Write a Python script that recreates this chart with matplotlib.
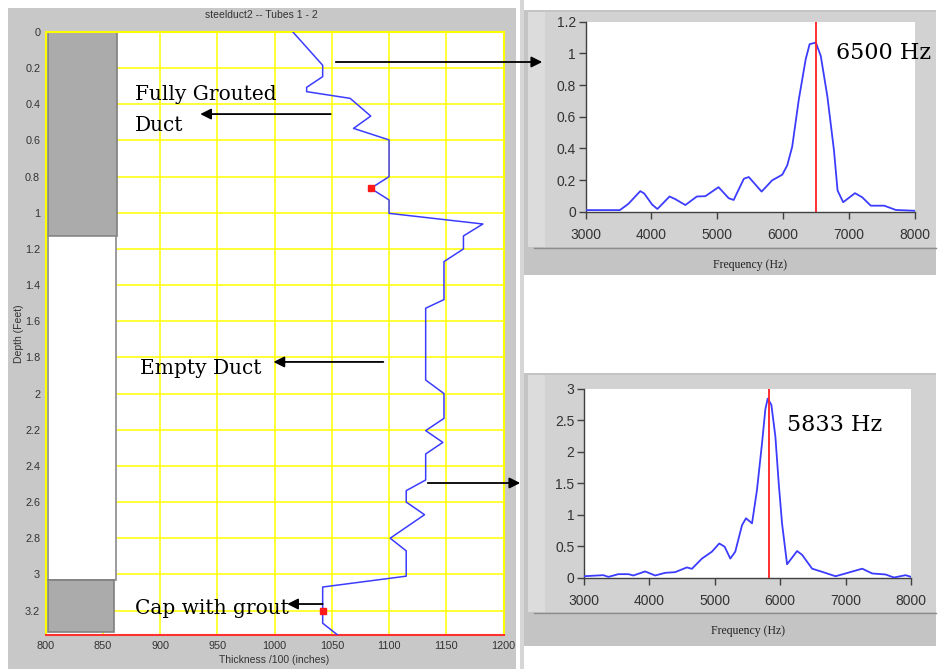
import matplotlib
matplotlib.use("Agg")
import matplotlib.pyplot as plt
from matplotlib.patches import Rectangle, FancyArrowPatch
from matplotlib.ticker import FuncFormatter
from matplotlib.lines import Line2D

# ---- thickness profile along the duct (depth in feet, thickness /100 in) ----
depth_ft = [0, 0.184, 0.247, 0.306, 0.33, 0.367, 0.465, 0.533, 0.597, 0.80, 0.865,
            0.929, 1.003, 1.062, 1.128, 1.20, 1.27, 1.48, 1.528, 1.925, 2.0, 2.137,
            2.205, 2.27, 2.334, 2.478, 2.537, 2.60, 2.67, 2.80, 2.87, 3.01, 3.07,
            3.20, 3.27, 3.34]
thickness = [1016, 1042, 1042, 1028, 1028, 1066, 1084, 1069, 1100, 1100, 1084,
             1100, 1100, 1182, 1165, 1165, 1148, 1148, 1132, 1132, 1148, 1148,
             1132, 1147, 1132, 1132, 1115, 1115, 1131, 1101, 1115, 1115, 1042,
             1042, 1042, 1056]
picked_depth = [0.865, 3.20]
picked_thickness = [1084, 1042]

# duct schematic zones (depth, feet)
grout_top = (0.0, 1.13)
empty_zone = (1.13, 3.03)
grout_cap = (3.03, 3.32)

# ---- spectrum at the grouted section ----
freq_top = [3000, 3520, 3650, 3830, 3890, 4010, 4090, 4275, 4360, 4515, 4690, 4820,
            5020, 5175, 5250, 5405, 5480, 5675, 5835, 5990, 6065, 6140, 6240, 6345,
            6405, 6500, 6575, 6675, 6775, 6830, 6915, 7095, 7205, 7335, 7540, 7715, 8000]
amp_top = [0.01, 0.01, 0.05, 0.13, 0.115, 0.045, 0.017, 0.096, 0.08, 0.042, 0.096,
           0.098, 0.155, 0.085, 0.074, 0.208, 0.219, 0.127, 0.198, 0.234, 0.293, 0.41,
           0.707, 0.962, 1.058, 1.068, 0.983, 0.728, 0.389, 0.134, 0.06, 0.117, 0.091,
           0.038, 0.038, 0.011, 0.006]
peak_top = 6500

# ---- spectrum at the empty section ----
freq_bot = [3000, 3296, 3373, 3526, 3679, 3756, 3935, 4088, 4241, 4394, 4573, 4650,
            4803, 4956, 5068, 5150, 5237, 5313, 5416, 5477, 5569, 5645, 5722, 5773,
            5809, 5865, 5926, 5977, 6028, 6105, 6258, 6335, 6488, 6641, 6846, 6999,
            7254, 7407, 7611, 7739, 7918, 8000]
amp_bot = [0.02, 0.037, 0.01, 0.053, 0.053, 0.032, 0.096, 0.032, 0.074, 0.085, 0.16,
           0.138, 0.30, 0.41, 0.54, 0.49, 0.30, 0.41, 0.83, 0.94, 0.86, 1.39, 2.13,
           2.67, 2.84, 2.74, 2.24, 1.50, 0.86, 0.21, 0.42, 0.36, 0.14, 0.09, 0.02,
           0.064, 0.14, 0.064, 0.048, 0.0, 0.037, 0.01]
peak_bot = 5833

thick_ticks = [800, 850, 900, 950, 1000, 1050, 1100, 1150, 1200]
depth_ticks = [0, 0.2, 0.4, 0.6, 0.8, 1.0, 1.2, 1.4, 1.6, 1.8, 2.0, 2.2, 2.4, 2.6,
               2.8, 3.0, 3.2]
freq_ticks = [3000, 4000, 5000, 6000, 7000, 8000]
amp_ticks_top = [0, 0.2, 0.4, 0.6, 0.8, 1.0, 1.2]
amp_ticks_bot = [0, 0.5, 1.0, 1.5, 2.0, 2.5, 3.0]

W, H = 938, 669
SANS = ["Liberation Sans", "DejaVu Sans"]
SERIF = ["DejaVu Serif"]
SMALL_SERIF = ["Liberation Serif", "DejaVu Serif"]
BLUE = "#3c3cff"
TICK_C = "#333333"

fig = plt.figure(figsize=(W / 100, H / 100), dpi=100)
fig.patch.set_facecolor("white")


def frect(x0, y0, x1, y1):
    """Rectangle in pixel units (origin top-left) -> figure fraction."""
    return (x0 / W, 1 - y1 / H), (x1 - x0) / W, (y1 - y0) / H


def panel(x0, y0, x1, y1, color, z=-2):
    xy, w, h = frect(x0, y0, x1, y1)
    fig.add_artist(Rectangle(xy, w, h, transform=fig.transFigure, facecolor=color,
                             edgecolor="none", zorder=z))


def faxes(x0, y0, x1, y1):
    xy, w, h = frect(x0, y0, x1, y1)
    return fig.add_axes([xy[0], xy[1], w, h])


def fig_xy(x, y):
    return (x / W, 1 - y / H)


def hline(x0, x1, y):
    fig.add_artist(Line2D([x0 / W, x1 / W], [1 - y / H, 1 - y / H],
                          transform=fig.transFigure, color="#8c8c8c", lw=1,
                          zorder=-1))


fmt = FuncFormatter(lambda v, p: f"{v:g}")

# ---------------- window backgrounds ----------------
panel(8, 8, 516, 669, "#c8c8c8")
panel(520, 0, 524, 669, "#d6d6d6")
# upper spectrum window
panel(524, 10, 936, 275, "#c4c4c4")
panel(528, 12, 936, 247, "#d2d2d2")
panel(528, 12, 545, 247, "#dcdcdc")
hline(534, 936, 248)
# lower spectrum window
panel(524, 373, 936, 646, "#c4c4c4")
panel(528, 375, 936, 612, "#d2d2d2")
panel(528, 375, 545, 612, "#dcdcdc")
hline(534, 936, 613)

# ---------------- thickness vs depth ----------------
ax = faxes(45.7, 32, 503.5, 635.3)
ax.set_facecolor("white")
ax.set_xlim(800, 1200)
ax.set_ylim(3.337, 0)
ax.set_xticks(thick_ticks)
ax.set_yticks(depth_ticks)
ax.yaxis.set_major_formatter(fmt)
ax.grid(True, color="#ffff00", lw=1.1)
ax.set_axisbelow(True)
for s in ["left", "right", "top"]:
    ax.spines[s].set_color("#ffff00")
    ax.spines[s].set_linewidth(1.5)
ax.spines["bottom"].set_color("#ff3030")
ax.spines["bottom"].set_linewidth(1.5)
ax.tick_params(length=0, labelsize=7.8, labelcolor=TICK_C, pad=4)
for lab in ax.get_xticklabels() + ax.get_yticklabels():
    lab.set_family(SANS)

# duct schematic
ax.add_patch(Rectangle((802, grout_top[0]), 60, grout_top[1] - grout_top[0],
                       facecolor="#ababab", edgecolor="#7f7f7f", lw=1.2, zorder=2))
ax.add_patch(Rectangle((802, empty_zone[0]), 59, empty_zone[1] - empty_zone[0],
                       facecolor="white", edgecolor="#8a8a8a", lw=1.2, zorder=2))
ax.add_patch(Rectangle((802, grout_cap[0]), 58, grout_cap[1] - grout_cap[0],
                       facecolor="#ababab", edgecolor="#7f7f7f", lw=1.2, zorder=2))

ax.plot(thickness, depth_ft, color=BLUE, lw=1.1, zorder=3)
ax.plot(picked_thickness, picked_depth, ls="none", marker="s", ms=4,
        color="#ff1a1a", zorder=4)

ax.set_xlabel("Thickness /100 (inches)", family=SANS, fontsize=7.5,
              color=TICK_C, labelpad=3)
ax.set_ylabel("Depth (Feet)", family=SANS, fontsize=7.5, color=TICK_C, labelpad=1)
fig.text(261 / W, 1 - 15 / H, "steelduct2 -- Tubes 1 - 2", family=SANS,
         fontsize=7.5, color=TICK_C, ha="center", va="center")

# annotations
txt_kw = dict(family=SERIF, fontsize=14.5, color="black", va="center", ha="left",
              zorder=6)
ax.text(878, 0.345, "Fully Grouted", **txt_kw)
ax.text(878, 0.515, "Duct", **txt_kw)
ax.text(882.6, 1.86, "Empty Duct", **txt_kw)
ax.text(878, 3.19, "Cap with grout", **txt_kw)

arrow = dict(arrowstyle="-|>", color="black", lw=1.3, mutation_scale=16,
             shrinkA=0, shrinkB=0)
ax.annotate("", xy=(935, 0.454), xytext=(1049, 0.454), arrowprops=arrow, zorder=6)
ax.annotate("", xy=(999, 1.825), xytext=(1095, 1.825), arrowprops=arrow, zorder=6)
ax.annotate("", xy=(1011, 3.164), xytext=(1042, 3.164), arrowprops=arrow, zorder=6)

# arrows leading to the spectra
for start, end in [((333, 62), (545, 62)), ((425, 483), (523, 483))]:
    fig.add_artist(FancyArrowPatch(
        fig_xy(*start), fig_xy(*end), transform=fig.transFigure,
        arrowstyle="-|>", color="black", lw=1.3, mutation_scale=16, zorder=7))


# ---------------- spectra ----------------
def spectrum(axs, f, a, peak, ymax, yticks, label, label_xy):
    axs.set_facecolor("white")
    axs.plot(f, a, color=BLUE, lw=1.3, zorder=3)
    axs.axvline(peak, color="#ff2020", lw=1.3, zorder=4)
    axs.set_xlim(3000, 8000)
    axs.set_ylim(0, ymax)
    axs.set_xticks(freq_ticks)
    axs.set_yticks(yticks)
    axs.yaxis.set_major_formatter(fmt)
    for s in ["top", "right"]:
        axs.spines[s].set_visible(False)
    for s in ["left", "bottom"]:
        axs.spines[s].set_color("#404040")
        axs.spines[s].set_linewidth(1.0)
    axs.tick_params(direction="out", length=5, width=1, color="#404040",
                    labelsize=10, labelcolor=TICK_C)
    axs.tick_params(axis="x", pad=7)
    axs.tick_params(axis="y", pad=2)
    for lab in axs.get_xticklabels() + axs.get_yticklabels():
        lab.set_family(SANS)
    axs.set_xlabel("Frequency (Hz)", family=SMALL_SERIF, fontsize=8.5,
                   color="#222222", labelpad=12)
    fig.text(label_xy[0] / W, 1 - label_xy[1] / H, label, family=SERIF,
             fontsize=16, color="black", ha="left", va="center")


ax_top = faxes(585.7, 21.7, 914.5, 211.7)
spectrum(ax_top, freq_top, amp_top, peak_top, 1.2, amp_ticks_top,
         f"{peak_top} Hz", (836, 53))

ax_bot = faxes(584, 388.5, 911, 577.5)
spectrum(ax_bot, freq_bot, amp_bot, peak_bot, 3.0, amp_ticks_bot,
         f"{peak_bot} Hz", (787, 425))

fig.savefig("out.png", dpi=100)
